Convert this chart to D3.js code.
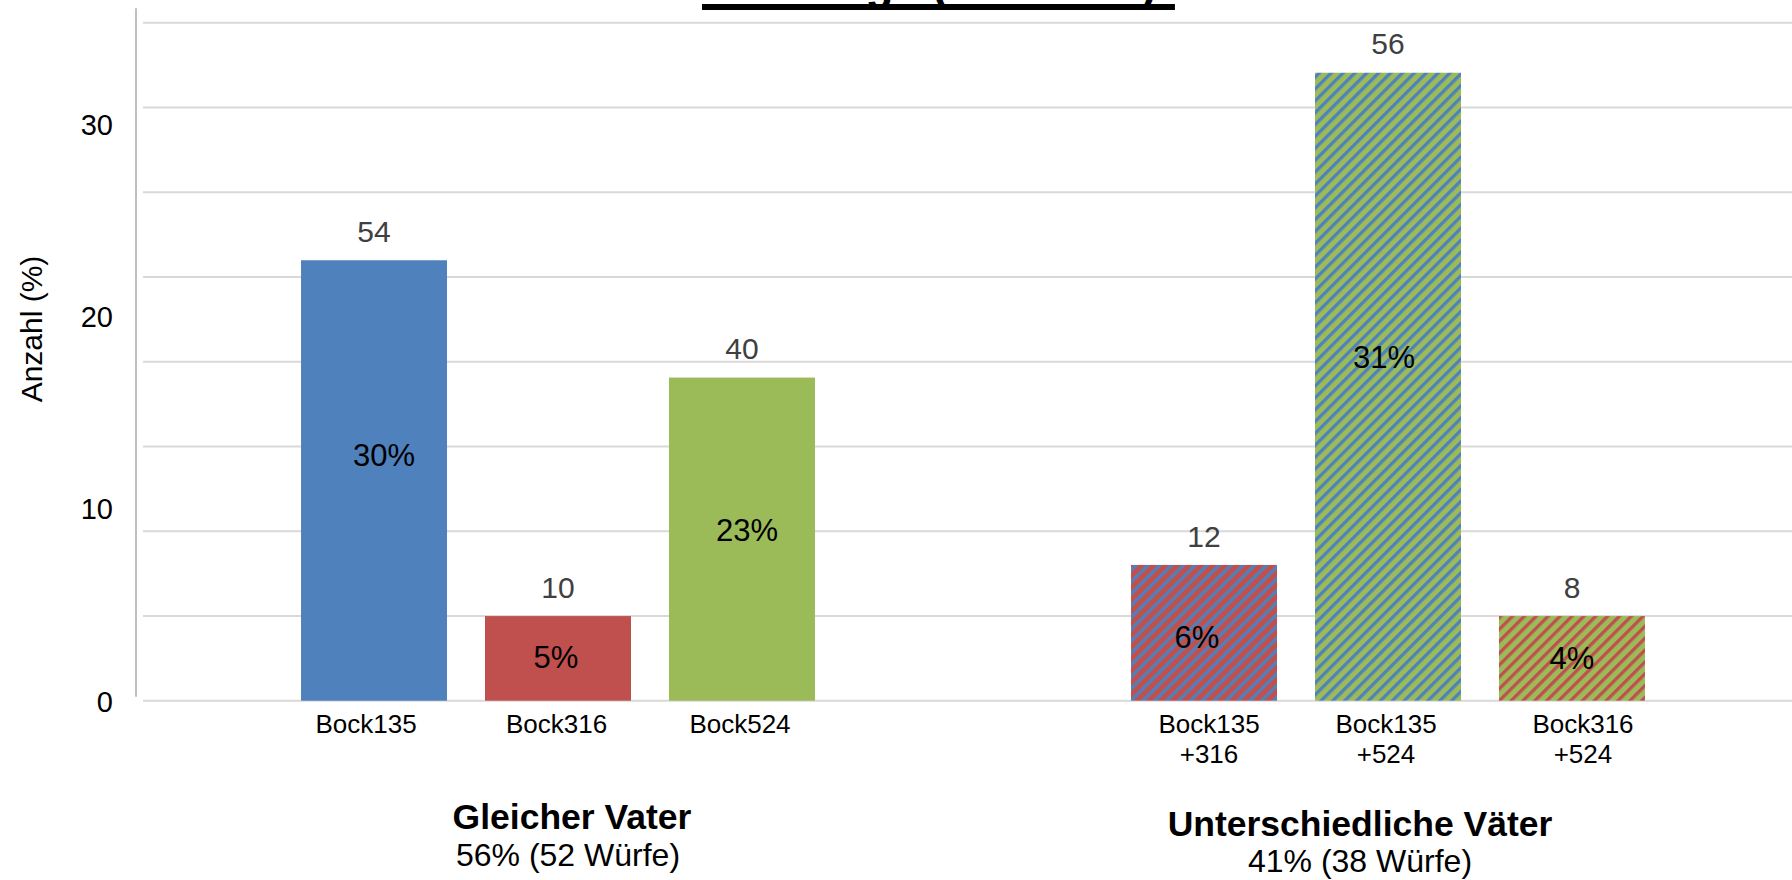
<!DOCTYPE html>
<html><head><meta charset="utf-8">
<script src="https://cdn.jsdelivr.net/npm/d3@7"></script>
<style>
body{margin:0;background:#fff}
svg{display:block}
text{font-family:"Liberation Sans",Arial,sans-serif}
</style>
</head><body>
<svg id="c" width="1792" height="880"></svg>
<script>
// ---------- data ----------
const title = "Mehrlinge (93 Würfe)";
const groups = ["Gleicher Vater", "Unterschiedliche Väter"];
const groupShares = ["56% (52 Würfe)", "41% (38 Würfe)"];
const categories = ["Bock135", "Bock316", "Bock524", "Bock135\n+316", "Bock135\n+524", "Bock316\n+524"];
const barGroup = [0, 0, 0, 1, 1, 1];
const barSlot = [0, 1, 2, 0, 1, 2];
const values = [22.9, 4.4, 16.8, 7.06, 32.65, 4.4];
const countLabels = ["54", "10", "40", "12", "56", "8"];
const percentLabels = ["30%", "5%", "23%", "6%", "31%", "4%"];
const yTicks = [0, 10, 20, 30];
const gridStep = 4.4065;
const gridCount = 9;
const yAxisTitle = "Anzahl (%)";

// ---------- styles / layout ----------
const BLUE = "#4F81BD", RED = "#C0504D", GREEN = "#9BBB59";
const fills = [
  {bg: BLUE}, {bg: RED}, {bg: GREEN},
  {bg: RED, fg: BLUE}, {bg: GREEN, fg: BLUE}, {bg: GREEN, fg: RED}
];
const pctDx = [10, -2, 5, -7, -4, 0];
const pctDy = [-25, -1, -9, 4, -30, 0];
const tickDx = [-8, -1.5, -2, 5, -2, 11];
const groupTitleDx = [14, -28], groupShareDx = [10, -28];
const groupTitleY = [829, 836], groupShareY = [866, 872];

const svg = d3.select("#c");
svg.append("rect").attr("width", 1792).attr("height", 880).attr("fill", "#fff");

const y = d3.scaleLinear().domain([0, 30]).range([700.7, 123.7]);
const x0 = d3.scaleBand().domain(groups).range([143, 1803]).paddingInner(0.335).paddingOuter(0.1675);
const x1 = d3.scaleBand().domain([0, 1, 2]).range([0, x0.bandwidth()]).paddingInner(0.2065).paddingOuter(0.10325);
const barX = i => x0(groups[barGroup[i]]) + x1(barSlot[i]);
const barC = i => barX(i) + x1.bandwidth() / 2;

// patterns
const defs = svg.append("defs");
fills.forEach((f, i) => {
  if (!f.fg) return;
  const p = defs.append("pattern").attr("id", "pat" + i)
    .attr("patternUnits", "userSpaceOnUse").attr("width", 8.4).attr("height", 8.4)
    .attr("patternTransform", "rotate(45)");
  p.append("rect").attr("width", 8.4).attr("height", 8.4).attr("fill", f.bg);
  p.append("rect").attr("width", 3.3).attr("height", 8.4).attr("fill", f.fg);
});

// gridlines
svg.append("g").selectAll("line").data(d3.range(gridCount).map(k => k * gridStep)).join("line")
  .attr("x1", 143).attr("x2", 1792)
  .attr("y1", d => y(d)).attr("y2", d => y(d))
  .attr("stroke", "#D9D9D9").attr("stroke-width", 2);

// y axis
svg.append("line").attr("x1", 136).attr("x2", 136).attr("y1", y(0) - 4).attr("y2", y(36))
  .attr("stroke", "#BFBFBF").attr("stroke-width", 2);
const ax = svg.append("g").attr("transform", "translate(136,0)")
  .call(d3.axisLeft(y).tickValues(yTicks).tickSize(0).tickPadding(23).tickFormat(d3.format("d")));
ax.select(".domain").remove();
ax.selectAll("text").attr("font-size", 29).attr("fill", "#000").attr("dy", "0.36em")
  .attr("font-family", "Liberation Sans, Arial, sans-serif");

svg.append("text").attr("transform", "translate(42,329) rotate(-90)")
  .attr("text-anchor", "middle").attr("font-size", 30).attr("fill", "#000").text(yAxisTitle);

// bars
svg.append("g").selectAll("rect").data(values).join("rect")
  .attr("x", (d, i) => barX(i)).attr("width", x1.bandwidth())
  .attr("y", d => y(d)).attr("height", d => y(0) - y(d))
  .attr("fill", (d, i) => fills[i].fg ? `url(#pat${i})` : fills[i].bg);

// count labels
svg.append("g").selectAll("text").data(values).join("text")
  .attr("x", (d, i) => barC(i)).attr("y", d => y(d) - 18.3)
  .attr("text-anchor", "middle").attr("font-size", 30).attr("fill", "#404040")
  .text((d, i) => countLabels[i]);

// percent labels
svg.append("g").selectAll("text").data(values).join("text")
  .attr("x", (d, i) => barC(i) + pctDx[i])
  .attr("y", (d, i) => (y(d) + y(0)) / 2 + pctDy[i] + 11)
  .attr("text-anchor", "middle").attr("font-size", 31).attr("fill", "#000")
  .text((d, i) => percentLabels[i]);

// category labels
const tl = svg.append("g").selectAll("text").data(categories).join("text")
  .attr("text-anchor", "middle").attr("font-size", 26).attr("fill", "#000");
tl.each(function(d, i) {
  d.split("\n").forEach((line, k) => {
    d3.select(this).append("tspan").attr("x", barC(i) + tickDx[i]).attr("y", 733 + k * 29.5).text(line);
  });
});

// group labels
groups.forEach((g, gi) => {
  const cx = x0(g) + x0.bandwidth() / 2;
  svg.append("text").attr("x", cx + groupTitleDx[gi]).attr("y", groupTitleY[gi])
    .attr("text-anchor", "middle").attr("font-size", 35.5).attr("font-weight", "bold").attr("fill", "#000").text(g);
  svg.append("text").attr("x", cx + groupShareDx[gi]).attr("y", groupShareY[gi])
    .attr("text-anchor", "middle").attr("font-size", 32).attr("fill", "#000").text(groupShares[gi]);
});

// title (mostly outside the top edge)
const t = svg.append("text").attr("x", 702).attr("y", -1)
  .attr("font-size", 46).attr("font-weight", "bold").attr("fill", "#000").text(title);
const tw = t.node().getComputedTextLength();
svg.append("rect").attr("x", 702).attr("y", 4).attr("width", tw + 18).attr("height", 6).attr("fill", "#000");
</script>
</body></html>
